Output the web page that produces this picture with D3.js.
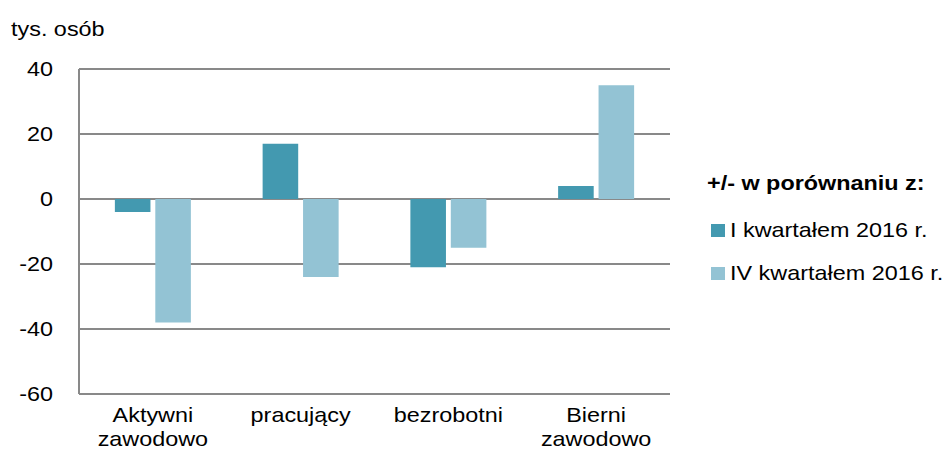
<!DOCTYPE html>
<html lang="pl">
<head>
    <meta charset="UTF-8">
    <title>zmiany</title>
    <script src="https://d3js.org/d3.v7.min.js"></script>
    <style>
        body { margin: 0; background: #fff; }
        text { font-family: "Liberation Sans", Arial, sans-serif; fill: #000; }
        .axis path, .axis line { display: none; }
    </style>
</head>
<body>
<script>
    const width = 948
    const height = 451

    const categories = [["Aktywni", "zawodowo"], ["pracujący"], ["bezrobotni"], ["Bierni", "zawodowo"]]
    const seriesNames = ["I kwartałem 2016 r.", "IV kwartałem 2016 r."]
    const vsQ1 = [-4, 17, -21, 4]
    const vsQ4 = [-38, -24, -15, 35]
    const yTicks = [40, 20, 0, -20, -40, -60]
    const colors = ["#4399b0", "#93c3d4"]

    const plotLeft = 79, plotRight = 670, plotTop = 69, plotBottom = 394
    // text in the original is a bit wider than it is tall
    const stretch = "scale(1.17,1)"

    const svg = d3.select("body").append("svg")
        .attr("width", width)
        .attr("height", height)

    function label(txt, px, py, anchor) {
        return svg.append("text")
            .text(txt)
            .attr("transform", "translate(" + px + "," + py + ") " + stretch)
            .attr("text-anchor", anchor || "start")
            .attr("font-size", 20)
    }

    const x = d3.scaleBand()
        .domain(d3.range(categories.length))
        .range([plotLeft, plotRight])
    const inner = d3.scaleBand()
        .domain([0, 1])
        .range([x.bandwidth() / 2 - 38, x.bandwidth() / 2 + 38])
        .paddingInner(0.12)
    const y = d3.scaleLinear()
        .domain([-60, 40])
        .range([plotBottom, plotTop])

    // gridlines
    svg.append("g").selectAll("line")
        .data(yTicks)
        .join("line")
        .attr("x1", plotLeft).attr("x2", plotRight)
        .attr("y1", d => y(d)).attr("y2", d => y(d))
        .attr("stroke", "#898989")
        .attr("stroke-width", 2)
    svg.append("line")
        .attr("x1", plotLeft).attr("x2", plotLeft)
        .attr("y1", plotTop).attr("y2", plotBottom)
        .attr("stroke", "#898989")
        .attr("stroke-width", 2)

    const series = [vsQ1, vsQ4]
    series.forEach(function (vals, s) {
        svg.append("g").selectAll("rect")
            .data(vals)
            .join("rect")
            .attr("x", (d, i) => x(i) + inner(s))
            .attr("width", inner.bandwidth())
            .attr("y", d => y(Math.max(0, d)))
            .attr("height", d => Math.abs(y(d) - y(0)))
            .attr("fill", colors[s])
    })

    const yAxis = d3.axisLeft(y).tickValues(yTicks).tickSize(0).tickFormat(d => String(d))
    svg.append("g")
        .attr("class", "axis")
        .attr("transform", "translate(" + plotLeft + ",0)")
        .call(yAxis)
        .selectAll("text")
        .attr("x", 0)
        .attr("transform", "translate(-26,0) " + stretch)
        .attr("font-size", 20)
        .attr("font-family", "Liberation Sans, Arial, sans-serif")

    label("tys. osób", 11, 36)

    // category labels
    categories.forEach(function (lines, i) {
        lines.forEach(function (t, j) {
            label(t, x(i) + x.bandwidth() / 2, 422 + j * 24, "middle")
        })
    })

    // legend
    label("+/- w porównaniu z:", 707, 190).attr("font-weight", "bold")
    const leg = svg.append("g").selectAll("g")
        .data(seriesNames)
        .join("g")
        .attr("transform", (d, i) => "translate(711," + (224 + i * 43) + ")")
    leg.append("rect")
        .attr("width", 14).attr("height", 13)
        .attr("fill", (d, i) => colors[i])
    leg.append("text")
        .text(d => d)
        .attr("transform", "translate(19,13) " + stretch)
        .attr("font-size", 20)
</script>
</body>
</html>
